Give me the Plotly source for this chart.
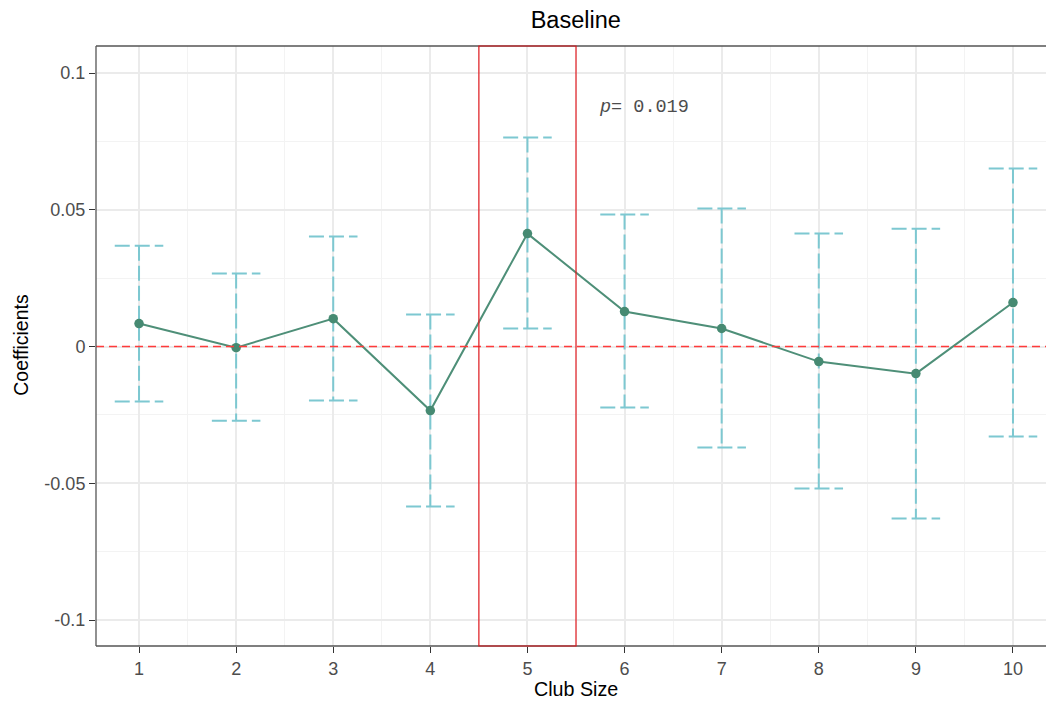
import plotly.graph_objects as go

club_size = [1, 2, 3, 4, 5, 6, 7, 8, 9, 10]
coef = [0.0084, -0.0004, 0.0102, -0.0234, 0.0413, 0.0128, 0.0066, -0.0055, -0.0099, 0.0161]
upper = [0.0369, 0.0267, 0.0402, 0.0117, 0.0764, 0.0483, 0.0505, 0.0413, 0.0431, 0.0651]
lower = [-0.0201, -0.0271, -0.0197, -0.0585, 0.0066, -0.0223, -0.0369, -0.0519, -0.0629, -0.0329]
y_ticks = [-0.1, -0.05, 0, 0.05, 0.1]
y_tick_labels = ["-0.1", "-0.05", "0", "0.05", "0.1"]
highlight = 5
p_label = "p"
p_value = "= 0.019"

cap = 0.25
ex, ey = [], []
for x, lo, hi in zip(club_size, lower, upper):
    ex += [x - cap, x + cap, None, x, x, None, x - cap, x + cap, None]
    ey += [hi, hi, None, hi, lo, None, lo, lo, None]

fig = go.Figure()
fig.add_trace(go.Scatter(x=ex, y=ey, mode="lines",
                         line=dict(color="#7DC8D1", width=2, dash="15px,5px"),
                         hoverinfo="skip", showlegend=False))
fig.add_trace(go.Scatter(x=club_size, y=coef, mode="lines+markers",
                         line=dict(color="#4E8F78", width=2),
                         marker=dict(color="#468A72", size=9.5),
                         showlegend=False))

fig.add_hline(y=0, line=dict(color="#FF3B3B", width=1.6, dash="8px,5px"))
# panel border (left, top, bottom)
for x0, y0, x1, y1 in [(0, 0, 0, 1), (0, 1, 1, 1), (0, 0, 1, 0)]:
    fig.add_shape(type="line", xref="paper", yref="paper", x0=x0, y0=y0, x1=x1, y1=y1,
                  line=dict(color="#555555", width=1.3))
fig.add_shape(type="rect", xref="x", yref="paper", x0=highlight - 0.5, x1=highlight + 0.5, y0=0, y1=1,
              line=dict(color="#E0191E", width=1.2), fillcolor="rgba(0,0,0,0)")

fig.add_annotation(x=5.72, y=0.0874, showarrow=False, xanchor="left",
                   text="<i>" + p_label + "</i>" + p_value,
                   font=dict(family="Liberation Mono, Courier New, monospace", size=18.5, color="#4D4D4D"))

# axis titles
fig.add_annotation(xref="paper", yref="paper", x=0.505, y=0, yanchor="middle", yshift=-43,
                   text="Club Size", showarrow=False, font=dict(size=19.7, color="#000000"))
fig.add_annotation(xref="paper", yref="paper", x=0, y=0.502, xanchor="center", xshift=-75,
                   text="Coefficients", textangle=-90, showarrow=False,
                   font=dict(size=19.5, color="#000000"))

fig.update_layout(
    width=1046, height=704,
    margin=dict(l=96, r=0, t=46, b=58),
    plot_bgcolor="white", paper_bgcolor="white",
    font=dict(family="Liberation Sans, Arial, sans-serif", color="#000000"),
    title=dict(text="Baseline", x=0.505, xref="paper", xanchor="center",
               y=0.972, yref="container", yanchor="middle",
               font=dict(size=23.5, color="#000000")),
)
fig.update_xaxes(range=[0.557, 10.34], tickmode="array", tickvals=club_size,
                 ticktext=[str(v) for v in club_size],
                 showgrid=True, gridcolor="#EBEBEB", gridwidth=1.6,
                 minor=dict(dtick=0.5, tick0=0.5, showgrid=True, gridcolor="#F3F3F3", gridwidth=0.8),
                 ticks="outside", ticklen=6, tickcolor="#333333", tickwidth=1.3,
                 tickfont=dict(size=18, color="#4D4D4D"), zeroline=False)
fig.update_yaxes(range=[-0.1095, 0.1099], tickmode="array", tickvals=y_ticks, ticktext=y_tick_labels,
                 showgrid=True, gridcolor="#EBEBEB", gridwidth=1.6,
                 minor=dict(dtick=0.025, tick0=0.025, showgrid=True, gridcolor="#F3F3F3", gridwidth=0.8),
                 ticks="outside", ticklen=6, tickcolor="#333333", tickwidth=1.3,
                 tickfont=dict(size=18, color="#4D4D4D"), zeroline=False)

fig.write_html("out.html", config={"displayModeBar": False},
               post_script="document.body.style.margin='0';document.body.style.overflow='hidden';")
